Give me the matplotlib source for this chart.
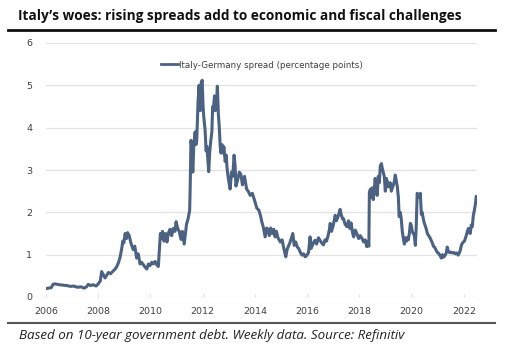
import matplotlib
matplotlib.use("Agg")
import matplotlib.pyplot as plt
from matplotlib.lines import Line2D

# ---- data (decimal year, spread in percentage points) ----
dates = [
    2006.00, 2006.10, 2006.20, 2006.27, 2006.35, 2006.50, 2006.65, 2006.80, 2006.95,
    2007.05, 2007.20, 2007.35, 2007.45, 2007.55, 2007.62, 2007.70, 2007.80, 2007.92,
    2008.00, 2008.08, 2008.13, 2008.20, 2008.26, 2008.33, 2008.39, 2008.47, 2008.58,
    2008.65, 2008.71, 2008.78, 2008.84, 2008.90, 2008.94, 2008.98, 2009.03, 2009.08,
    2009.12, 2009.18, 2009.24, 2009.30, 2009.34, 2009.40, 2009.47, 2009.53, 2009.60,
    2009.66, 2009.73, 2009.80, 2009.86, 2009.92, 2009.98, 2010.05, 2010.11, 2010.18,
    2010.24, 2010.30, 2010.34, 2010.38, 2010.42, 2010.46, 2010.52, 2010.57, 2010.63,
    2010.69, 2010.75, 2010.81, 2010.87, 2010.94, 2010.98, 2011.04, 2011.10, 2011.17,
    2011.22, 2011.29, 2011.33, 2011.38, 2011.44, 2011.50, 2011.52, 2011.55, 2011.58,
    2011.62, 2011.66, 2011.71, 2011.74, 2011.77, 2011.82, 2011.86, 2011.90, 2011.94,
    2011.98, 2012.01, 2012.04, 2012.09, 2012.13, 2012.16, 2012.20, 2012.23, 2012.27,
    2012.31, 2012.35, 2012.38, 2012.41, 2012.45, 2012.48, 2012.50, 2012.53, 2012.56,
    2012.60, 2012.63, 2012.67, 2012.70, 2012.74, 2012.77, 2012.81, 2012.86, 2012.90,
    2012.93, 2012.98, 2013.05, 2013.10, 2013.15, 2013.20, 2013.24, 2013.27, 2013.33,
    2013.40, 2013.46, 2013.52, 2013.60, 2013.68, 2013.74, 2013.82, 2013.90, 2014.00,
    2014.07, 2014.15, 2014.22, 2014.26, 2014.32, 2014.39, 2014.45, 2014.50, 2014.55,
    2014.60, 2014.66, 2014.72, 2014.77, 2014.82, 2014.88, 2014.97, 2015.04, 2015.09,
    2015.14, 2015.18, 2015.23, 2015.28, 2015.33, 2015.40, 2015.45, 2015.50, 2015.56,
    2015.62, 2015.67, 2015.74, 2015.80, 2015.86, 2015.92, 2015.98, 2016.05, 2016.11,
    2016.15, 2016.20, 2016.25, 2016.30, 2016.36, 2016.43, 2016.48, 2016.55, 2016.62,
    2016.68, 2016.74, 2016.80, 2016.85, 2016.88, 2016.93, 2017.00, 2017.07, 2017.12,
    2017.18, 2017.26, 2017.30, 2017.35, 2017.39, 2017.45, 2017.52, 2017.58, 2017.63,
    2017.68, 2017.74, 2017.78, 2017.84, 2017.90, 2017.97, 2018.03, 2018.10, 2018.16,
    2018.22, 2018.28, 2018.33, 2018.36, 2018.38, 2018.42, 2018.45, 2018.49, 2018.53,
    2018.57, 2018.60, 2018.64, 2018.68, 2018.72, 2018.76, 2018.80, 2018.84, 2018.87,
    2018.91, 2018.95, 2018.99, 2019.03, 2019.07, 2019.10, 2019.14, 2019.18, 2019.22,
    2019.26, 2019.30, 2019.34, 2019.37, 2019.41, 2019.45, 2019.49, 2019.52, 2019.56,
    2019.60, 2019.64, 2019.68, 2019.72, 2019.76, 2019.80, 2019.84, 2019.87, 2019.91,
    2019.95, 2019.98, 2020.02, 2020.06, 2020.10, 2020.14, 2020.17, 2020.21, 2020.25,
    2020.29, 2020.33, 2020.37, 2020.40, 2020.44, 2020.48, 2020.52, 2020.56, 2020.60,
    2020.65, 2020.70, 2020.75, 2020.79, 2020.83, 2020.87, 2020.90, 2020.94, 2020.98,
    2021.02, 2021.06, 2021.10, 2021.13, 2021.17, 2021.21, 2021.25, 2021.29, 2021.33,
    2021.36, 2021.40, 2021.45, 2021.50, 2021.56, 2021.62, 2021.67, 2021.73, 2021.78,
    2021.82, 2021.86, 2021.90, 2021.94, 2021.98, 2022.02, 2022.05, 2022.09, 2022.13,
    2022.17, 2022.20, 2022.24, 2022.28, 2022.32, 2022.36, 2022.40, 2022.44, 2022.47,
]
spread = [
    0.20, 0.21, 0.22, 0.30, 0.31, 0.29, 0.28, 0.27, 0.25,
    0.26, 0.23, 0.24, 0.21, 0.24, 0.30, 0.27, 0.29, 0.26,
    0.31, 0.38, 0.60, 0.52, 0.45, 0.52, 0.58, 0.55, 0.62,
    0.66, 0.72, 0.82, 0.95, 1.15, 1.32, 1.28, 1.50, 1.38,
    1.52, 1.46, 1.30, 1.18, 1.12, 1.20, 0.92, 1.02, 0.78,
    0.82, 0.76, 0.70, 0.66, 0.78, 0.74, 0.82, 0.78, 0.84,
    0.76, 0.72, 1.10, 1.50, 1.38, 1.55, 1.32, 1.50, 1.30,
    1.52, 1.60, 1.45, 1.62, 1.55, 1.78, 1.62, 1.55, 1.36,
    1.55, 1.25, 1.45, 1.72, 1.85, 2.05, 2.60, 3.70, 3.55,
    2.95, 3.60, 3.90, 3.60, 3.70, 4.60, 5.00, 4.40, 5.05,
    5.12, 4.55, 4.25, 3.95, 3.45, 3.55, 3.20, 2.96, 3.45,
    3.70, 3.90, 4.50, 4.45, 4.75, 4.40, 4.70, 4.60, 4.98,
    4.30, 4.05, 3.55, 3.40, 3.60, 3.40, 3.55, 3.20, 3.35,
    3.05, 2.80, 2.55, 2.95, 2.85, 3.35, 3.10, 2.62, 2.75,
    2.95, 2.90, 2.65, 2.85, 2.55, 2.50, 2.40, 2.45, 2.25,
    2.10, 2.05, 1.90, 1.78, 1.65, 1.42, 1.63, 1.58, 1.45,
    1.63, 1.50, 1.60, 1.42, 1.55, 1.40, 1.30, 1.35, 1.19,
    1.05, 0.95, 1.12, 1.20, 1.27, 1.40, 1.50, 1.22, 1.30,
    1.18, 1.15, 1.05, 0.99, 1.02, 0.95, 0.98, 1.05, 1.42,
    1.15, 1.22, 1.30, 1.34, 1.25, 1.40, 1.35, 1.28, 1.23,
    1.35, 1.32, 1.45, 1.60, 1.74, 1.55, 1.70, 1.93, 1.80,
    1.90, 2.07, 1.95, 1.85, 1.85, 1.72, 1.66, 1.80, 1.62,
    1.75, 1.50, 1.42, 1.58, 1.50, 1.38, 1.45, 1.38, 1.30,
    1.35, 1.19, 1.30, 1.20, 2.48, 2.55, 2.35, 2.58, 2.30,
    2.55, 2.80, 2.62, 2.40, 2.85, 2.70, 3.10, 3.15, 3.05,
    2.95, 2.85, 2.50, 2.80, 2.72, 2.60, 2.65, 2.70, 2.50,
    2.58, 2.65, 2.75, 2.88, 2.75, 2.60, 2.35, 1.90, 2.00,
    1.85, 1.55, 1.38, 1.25, 1.40, 1.32, 1.40, 1.35, 1.50,
    1.74, 1.70, 1.55, 1.50, 1.45, 1.22, 1.60, 2.45, 2.38,
    2.35, 2.45, 1.95, 2.00, 1.86, 1.75, 1.68, 1.60, 1.50,
    1.45, 1.40, 1.33, 1.28, 1.20, 1.18, 1.15, 1.10, 1.05,
    1.04, 1.00, 0.97, 0.92, 1.00, 0.94, 0.96, 1.00, 1.05,
    1.18, 1.08, 1.05, 1.06, 1.04, 1.05, 1.02, 1.04, 0.99,
    1.04, 1.10, 1.22, 1.27, 1.30, 1.32, 1.38, 1.45, 1.55,
    1.62, 1.55, 1.50, 1.70, 1.66, 1.93, 2.05, 2.20, 2.37,
]

year_ticks = [2006, 2008, 2010, 2012, 2014, 2016, 2018, 2020, 2022]
value_ticks = [0, 1, 2, 3, 4, 5, 6]

title = "Italy\u2019s woes: rising spreads add to economic and fiscal challenges"
series_label = "Italy-Germany spread (percentage points)"
footer = "Based on 10-year government debt. Weekly data. Source: Refinitiv"

line_color = "#4b6282"
text_color = "#404040"
grid_color = "#e3e3e3"

W, H = 531, 350
fig = plt.figure(figsize=(W / 100, H / 100), dpi=100)
fig.patch.set_facecolor("white")

def fx(px):
    return px / W

def fy(py):
    return 1 - py / H

ax = fig.add_axes([fx(46), fy(297), fx(477) - fx(46), fy(43) - fy(297)])
ax.plot(dates, spread, color=line_color, lw=2.2, solid_joinstyle="round")
ax.set_xlim(2006, 2022.5)
ax.set_ylim(0, 6)
ax.set_xticks(year_ticks)
ax.set_yticks(value_ticks)
ax.set_xticklabels([str(y) for y in year_ticks])
ax.set_yticklabels([str(v) for v in value_ticks])
for s in ax.spines.values():
    s.set_visible(False)
ax.grid(axis="y", color=grid_color, lw=0.9)
ax.set_axisbelow(True)
ax.tick_params(axis="y", length=0, pad=10, labelsize=6.8, labelcolor=text_color)
ax.tick_params(axis="x", length=2, width=0.6, color="#d8d8d8", direction="in", pad=7,
               labelsize=6.8, labelcolor=text_color)

# legend
handle = Line2D([], [], color=line_color, lw=2.0)
leg = ax.legend([handle], [series_label], loc="center", bbox_to_anchor=(fx(262), fy(65)),
                bbox_transform=fig.transFigure, frameon=False, fontsize=6.3,
                handlelength=2.0, handletextpad=0.1, labelcolor=text_color)

# title and rules
t_title = fig.text(fx(18), fy(16), title, fontsize=10.5, fontweight="bold", color="#111111",
                   ha="left", va="center", family="Open Sans")
fig.add_artist(Line2D([fx(8), fx(495)], [fy(30), fy(30)], color="#111111", lw=2.0,
                      transform=fig.transFigure))
fig.add_artist(Line2D([fx(8), fx(495)], [fy(323), fy(323)], color="#555555", lw=1.5,
                      transform=fig.transFigure))
t_foot = fig.text(fx(19), fy(336), footer, fontsize=9, fontstyle="italic", color="#222222",
                  ha="left", va="center", family="Open Sans")

# fit text widths to the reference widths
renderer = fig.canvas.get_renderer()
for t, target in ((t_title, 442), (t_foot, 388)):
    w = t.get_window_extent(renderer).width
    t.set_fontsize(t.get_fontsize() * target / w)

fig.savefig("out.png", dpi=100, facecolor="white")
